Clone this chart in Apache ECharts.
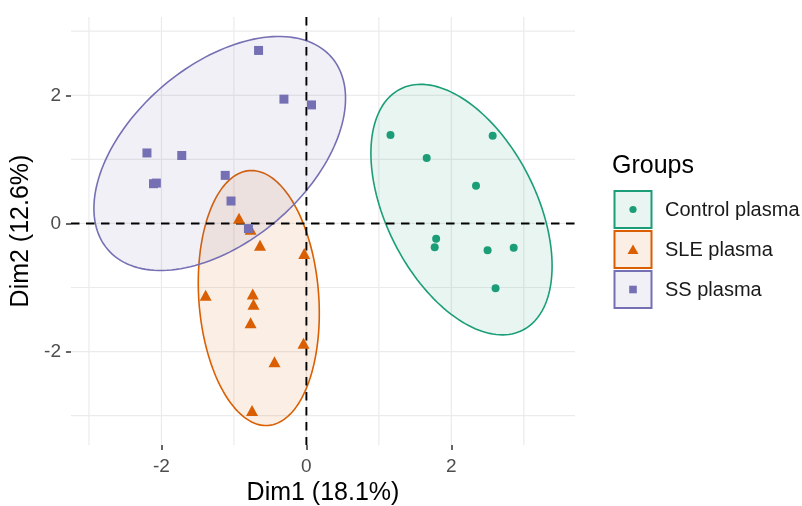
<!DOCTYPE html>
<html>
<head>
<meta charset="utf-8">
<script src="https://cdn.jsdelivr.net/npm/echarts@6.0.0/dist/echarts.min.js"></script>
<style>
  html, body { margin: 0; padding: 0; background: #fff; }
  #chart { width: 802px; height: 506px; }
</style>
</head>
<body>
<div id="chart"></div>
<script>
const groups = ["Control plasma", "SLE plasma", "SS plasma"];
const colors = ["#1B9E77", "#D95F02", "#7570B3"];
const symbols = ["circle", "triangle", "rect"];

// individuals on Dim1 / Dim2
const controlPoints = [
  [1.16, 1.38], [2.57, 1.37], [1.66, 1.02], [2.34, 0.59], [1.79, -0.24],
  [1.77, -0.37], [2.50, -0.42], [2.86, -0.38], [2.61, -1.01]
];
const slePoints = [
  [-0.93, 0.08], [-0.77, -0.09], [-0.64, -0.34], [-0.03, -0.47], [-1.39, -1.12],
  [-0.74, -1.10], [-0.73, -1.26], [-0.77, -1.55], [-0.04, -1.87], [-0.44, -2.16],
  [-0.75, -2.92]
];
const ssPoints = [
  [-0.66, 2.70], [-0.31, 1.94], [0.07, 1.85], [-2.20, 1.10], [-1.72, 1.06],
  [-2.11, 0.62], [-2.07, 0.63], [-1.12, 0.75], [-1.04, 0.35], [-0.80, -0.08]
];

// ellipses: centre, half width, half height, correlation
const ellipseCx = [2.14, -0.657, -1.196];
const ellipseCy = [0.216, -1.164, 1.092];
const ellipseW = [1.25, 0.835, 1.736];
const ellipseH = [1.955, 1.99, 1.826];
const ellipseRho = [-0.45, -0.12, 0.47];

const xTickValues = [-2, 0, 2];
const yTickValues = [-2, 0, 2];
const xGridValues = [-3, -2, -1, 0, 1, 2, 3];
const yGridValues = [-3, -2, -1, 0, 1, 2, 3];

const FONT = "Liberation Sans, Arial, sans-serif";

function tint(hex, a) {
  const n = parseInt(hex.slice(1), 16);
  return "rgba(" + (n >> 16) + "," + ((n >> 8) & 255) + "," + (n & 255) + "," + a + ")";
}

const ellipseData = groups.map((g, i) => [ellipseCx[i], ellipseCy[i], ellipseW[i], ellipseH[i], ellipseRho[i]]);

function gridSeries(values, vertical, style, z) {
  return {
    type: "custom",
    silent: true,
    z: z,
    data: values.map(v => (vertical ? [v, 0] : [0, v])),
    encode: { x: 0, y: 1 },
    renderItem(params, api) {
      const cs = params.coordSys;
      const p = api.coord([api.value(0), api.value(1)]);
      const shape = vertical
        ? { x1: p[0], y1: cs.y, x2: p[0], y2: cs.y + cs.height }
        : { x1: cs.x, y1: p[1], x2: cs.x + cs.width, y2: p[1] };
      return { type: "line", shape: shape, style: style };
    }
  };
}

const ellipseSeries = {
  type: "custom",
  silent: true,
  z: 2,
  data: ellipseData,
  encode: { x: 0, y: 1 },
  renderItem(params, api) {
    const i = params.dataIndex;
    const cx = api.value(0), cy = api.value(1);
    const w = api.value(2), h = api.value(3), rho = api.value(4);
    const s = Math.sqrt(1 - rho * rho);
    const pts = [];
    for (let k = 0; k < 160; k++) {
      const t = (k / 160) * Math.PI * 2;
      pts.push(api.coord([cx + w * Math.cos(t), cy + h * (rho * Math.cos(t) + s * Math.sin(t))]));
    }
    return {
      type: "polygon",
      shape: { points: pts },
      style: { fill: tint(colors[i], 0.1), stroke: colors[i], lineWidth: 1.6 }
    };
  }
};

const pointSets = [controlPoints, slePoints, ssPoints];
const symbolSizes = [8, [12, 11], 9];
const pointSeries = groups.map((g, i) => ({
  name: g,
  type: "scatter",
  z: 4,
  symbol: symbols[i],
  symbolSize: symbolSizes[i],
  itemStyle: { color: colors[i], opacity: 1 },
  data: pointSets[i]
}));

const zeroStyle = { stroke: "#000", lineWidth: 1.9, lineDash: [8.5, 6.5] };
const gridStyle = { stroke: "#ebebeb", lineWidth: 1.2 };

// legend drawn by hand, ggplot style keys
const legendItems = [];
legendItems.push({
  type: "text", left: 612, top: 154,
  style: { text: "Groups", font: "25px " + FONT, fill: "#000" }
});
groups.forEach((g, i) => {
  const top = 191 + i * 40;
  legendItems.push({
    type: "rect", shape: { x: 614.5, y: top, width: 37, height: 37 },
    style: { fill: tint(colors[i], 0.1), stroke: colors[i], lineWidth: 2 }
  });
  const cx = 633, cy = top + 18.5;
  if (symbols[i] === "circle") {
    legendItems.push({ type: "circle", shape: { cx: cx, cy: cy, r: 3.6 }, style: { fill: colors[i] } });
  } else if (symbols[i] === "triangle") {
    legendItems.push({ type: "polygon", shape: { points: [[cx, cy - 5], [cx - 5.5, cy + 4.5], [cx + 5.5, cy + 4.5]] }, style: { fill: colors[i] } });
  } else {
    legendItems.push({ type: "rect", shape: { x: cx - 3.8, y: cy - 3.8, width: 7.6, height: 7.6 }, style: { fill: colors[i] } });
  }
  legendItems.push({
    type: "text", left: 665, top: top + 9,
    style: { text: g, font: "20px " + FONT, fill: "#1a1a1a" }
  });
});

const option = {
  animation: false,
  backgroundColor: "#fff",
  grid: { left: 71, right: 227, top: 17, bottom: 61, containLabel: false, outerBoundsMode: "none" },
  xAxis: {
    type: "value",
    min: -3.248,
    max: 3.706,
    name: "Dim1 (18.1%)",
    nameLocation: "middle",
    nameGap: 36,
    nameTextStyle: { fontSize: 25, color: "#000", fontFamily: FONT },
    axisLine: { show: false, onZero: false },
    axisTick: { show: true, customValues: xTickValues, length: 5, lineStyle: { color: "#333", width: 1.5 } },
    axisLabel: { customValues: xTickValues, color: "#4d4d4d", fontSize: 19, margin: 12, fontFamily: FONT },
    splitLine: { show: false }
  },
  yAxis: {
    type: "value",
    min: -3.458,
    max: 3.222,
    name: "Dim2 (12.6%)",
    nameLocation: "middle",
    nameGap: 33,
    nameTextStyle: { fontSize: 25, color: "#000", fontFamily: FONT },
    axisLine: { show: false, onZero: false },
    axisTick: { show: true, customValues: yTickValues, length: 5, lineStyle: { color: "#333", width: 1.5 } },
    axisLabel: { customValues: yTickValues, color: "#4d4d4d", fontSize: 19, margin: 10, fontFamily: FONT },
    splitLine: { show: false }
  },
  series: [
    gridSeries(xGridValues, true, gridStyle, 0),
    gridSeries(yGridValues, false, gridStyle, 0),
    ellipseSeries,
    gridSeries([0], true, zeroStyle, 3),
    gridSeries([0], false, zeroStyle, 3)
  ].concat(pointSeries),
  graphic: legendItems
};

const chart = echarts.init(document.getElementById("chart"));
chart.setOption(option);
</script>
</body>
</html>
